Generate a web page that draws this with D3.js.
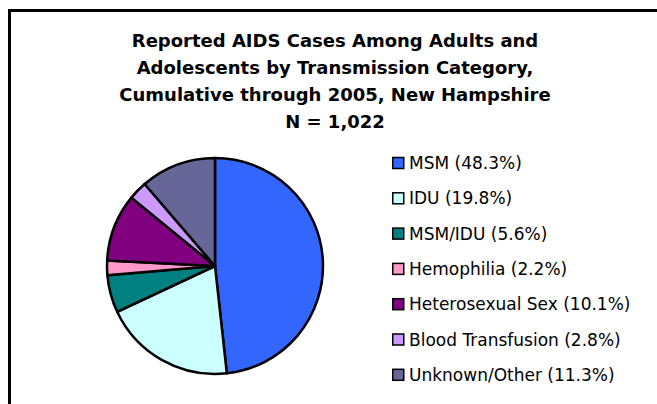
<!DOCTYPE html>
<html>
<head>
<meta charset="utf-8">
<script src="https://cdn.jsdelivr.net/npm/d3@7"></script>
<style>
	body { margin: 0; background: #fff; }
	svg { display: block; }
	text { font-family: "DejaVu Sans", sans-serif; fill: #000; }
</style>
</head>
<body>
<div id="chart"></div>
<script>
var titleLines = [
	"Reported AIDS Cases Among Adults and",
	"Adolescents by Transmission Category,",
	"Cumulative through 2005, New Hampshire",
	"N = 1,022"
];
var categories = ["MSM", "IDU", "MSM/IDU", "Hemophilia", "Heterosexual Sex", "Blood Transfusion", "Unknown/Other"];
var percents = [48.3, 19.8, 5.6, 2.2, 10.1, 2.8, 11.3];
var colors = ["#3366FF", "#CCFFFF", "#008080", "#FF99CC", "#800080", "#CC99FF", "#666699"];

var width = 657, height = 404;
var cx = 215, cy = 266, radius = 108;

var data = categories.map(function(c, i) { return {name: c, value: percents[i]}; });

var color = d3.scaleOrdinal().domain(categories).range(colors);

var svg = d3.select("#chart").append("svg")
		.attr("width", width)
		.attr("height", height);

// chart frame (runs off the right and bottom edges)
svg.append("rect")
		.attr("x", 9.5)
		.attr("y", 10.5)
		.attr("width", 700)
		.attr("height", 450)
		.attr("fill", "none")
		.attr("stroke", "#000")
		.attr("stroke-width", 3);

// title
svg.append("g").attr("class", "title")
	.selectAll("text")
	.data(titleLines)
	.enter().append("text")
		.attr("x", 335)
		.attr("y", function(d, i) { return 46.5 + i * 27; })
		.attr("text-anchor", "middle")
		.style("font-weight", "bold")
		.style("font-size", "18px")
		.text(function(d) { return d; });

// pie
var pie = d3.pie().sort(null).value(function(d) { return d.value; });
var arc = d3.arc().innerRadius(0).outerRadius(radius);

svg.append("g")
		.attr("transform", "translate(" + cx + "," + cy + ")")
	.selectAll("path")
	.data(pie(data))
	.enter().append("path")
		.attr("d", arc)
		.attr("fill", function(d) { return color(d.data.name); })
		.attr("stroke", "#000")
		.attr("stroke-width", 2.5)
		.attr("stroke-linejoin", "round");

// legend
var legend = svg.append("g").attr("class", "legend")
		.attr("transform", "translate(392,163)");

var item = legend.selectAll(".legend-item")
	.data(data)
	.enter().append("g")
		.attr("class", "legend-item")
		.attr("transform", function(d, i) { return "translate(0," + (i * 35.3) + ")"; });

item.append("rect")
		.attr("x", 0.75)
		.attr("y", -5.5)
		.attr("width", 11)
		.attr("height", 11)
		.attr("fill", function(d) { return color(d.name); })
		.attr("stroke", "#000")
		.attr("stroke-width", 1.5);

item.append("text")
		.attr("x", 17)
		.attr("y", 0)
		.attr("dy", "0.36em")
		.style("font-size", "17px")
		.text(function(d) { return d.name + " (" + d3.format(".1f")(d.value) + "%)"; });
</script>
</body>
</html>
